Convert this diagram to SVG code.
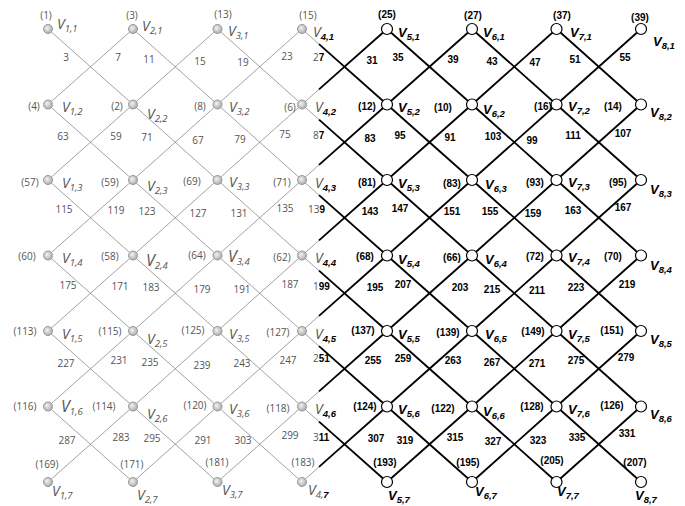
<svg xmlns="http://www.w3.org/2000/svg" width="685" height="506" viewBox="0 0 685 506">
<defs>
<radialGradient id="gg" cx="40%" cy="40%" r="65%"><stop offset="0" stop-color="#f2f2f2"/><stop offset="1" stop-color="#a8a8a8"/></radialGradient>
<style>
.eg{stroke:#8c8c8c;stroke-width:0.8;fill:none}
.eb{stroke:#000;stroke-width:1.8;fill:none}
.ng{fill:url(#gg);stroke:#999;stroke-width:1}
.nb{fill:#fff;stroke:#000;stroke-width:1.2}
.tg{font-family:"Open Sans","Liberation Sans",sans-serif;font-size:10px;fill:#555}
.tb{font-family:"Liberation Sans",Arial,sans-serif;font-size:10px;font-weight:bold;fill:#000}
.vg{font-family:"Open Sans","Liberation Sans",sans-serif;font-style:italic;font-size:14px;fill:#555}
.vb{font-family:"Liberation Sans",Arial,sans-serif;font-style:italic;font-weight:bold;font-size:13px;fill:#000}
.big{font-size:16px}
.s{font-size:9.5px}
.c{text-anchor:middle}
</style>
</defs>
<rect width="685" height="506" fill="#fff"/>
<g id="connectors">
<line class="eg" x1="48" y1="29" x2="133" y2="104.5"/><line class="eg" x1="133" y1="29" x2="48" y2="104.5"/>
<line class="eg" x1="133" y1="29" x2="217.5" y2="104.5"/><line class="eg" x1="217.5" y1="29" x2="133" y2="104.5"/>
<line class="eg" x1="217.5" y1="29" x2="302" y2="104.5"/><line class="eg" x1="302" y1="29" x2="217.5" y2="104.5"/>
<line class="eg" x1="302" y1="29" x2="319" y2="44.1"/><line class="eg" x1="319" y1="89.4" x2="302" y2="104.5"/>
<line class="eb" x1="319" y1="44.1" x2="387" y2="104.5"/><line class="eb" x1="387" y1="29" x2="319" y2="89.4"/>
<line class="eb" x1="387" y1="29" x2="472" y2="104.5"/><line class="eb" x1="472" y1="29" x2="387" y2="104.5"/>
<line class="eb" x1="472" y1="29" x2="556.5" y2="104.5"/><line class="eb" x1="556.5" y1="29" x2="472" y2="104.5"/>
<line class="eb" x1="556.5" y1="29" x2="641" y2="104.5"/><line class="eb" x1="641" y1="29" x2="556.5" y2="104.5"/>

<line class="eg" x1="48" y1="104.5" x2="133" y2="180"/><line class="eg" x1="133" y1="104.5" x2="48" y2="180"/>
<line class="eg" x1="133" y1="104.5" x2="217.5" y2="180"/><line class="eg" x1="217.5" y1="104.5" x2="133" y2="180"/>
<line class="eg" x1="217.5" y1="104.5" x2="302" y2="180"/><line class="eg" x1="302" y1="104.5" x2="217.5" y2="180"/>
<line class="eg" x1="302" y1="104.5" x2="319" y2="119.6"/><line class="eg" x1="319" y1="164.9" x2="302" y2="180"/>
<line class="eb" x1="319" y1="119.6" x2="387" y2="180"/><line class="eb" x1="387" y1="104.5" x2="319" y2="164.9"/>
<line class="eb" x1="387" y1="104.5" x2="472" y2="180"/><line class="eb" x1="472" y1="104.5" x2="387" y2="180"/>
<line class="eb" x1="472" y1="104.5" x2="556.5" y2="180"/><line class="eb" x1="556.5" y1="104.5" x2="472" y2="180"/>
<line class="eb" x1="556.5" y1="104.5" x2="641" y2="180"/><line class="eb" x1="641" y1="104.5" x2="556.5" y2="180"/>

<line class="eg" x1="48" y1="180" x2="133" y2="255.5"/><line class="eg" x1="133" y1="180" x2="48" y2="255.5"/>
<line class="eg" x1="133" y1="180" x2="217.5" y2="255.5"/><line class="eg" x1="217.5" y1="180" x2="133" y2="255.5"/>
<line class="eg" x1="217.5" y1="180" x2="302" y2="255.5"/><line class="eg" x1="302" y1="180" x2="217.5" y2="255.5"/>
<line class="eg" x1="302" y1="180" x2="319" y2="195.1"/><line class="eg" x1="319" y1="240.4" x2="302" y2="255.5"/>
<line class="eb" x1="319" y1="195.1" x2="387" y2="255.5"/><line class="eb" x1="387" y1="180" x2="319" y2="240.4"/>
<line class="eb" x1="387" y1="180" x2="472" y2="255.5"/><line class="eb" x1="472" y1="180" x2="387" y2="255.5"/>
<line class="eb" x1="472" y1="180" x2="556.5" y2="255.5"/><line class="eb" x1="556.5" y1="180" x2="472" y2="255.5"/>
<line class="eb" x1="556.5" y1="180" x2="641" y2="255.5"/><line class="eb" x1="641" y1="180" x2="556.5" y2="255.5"/>

<line class="eg" x1="48" y1="255.5" x2="133" y2="331"/><line class="eg" x1="133" y1="255.5" x2="48" y2="331"/>
<line class="eg" x1="133" y1="255.5" x2="217.5" y2="331"/><line class="eg" x1="217.5" y1="255.5" x2="133" y2="331"/>
<line class="eg" x1="217.5" y1="255.5" x2="302" y2="331"/><line class="eg" x1="302" y1="255.5" x2="217.5" y2="331"/>
<line class="eg" x1="302" y1="255.5" x2="319" y2="270.6"/><line class="eg" x1="319" y1="315.9" x2="302" y2="331"/>
<line class="eb" x1="319" y1="270.6" x2="387" y2="331"/><line class="eb" x1="387" y1="255.5" x2="319" y2="315.9"/>
<line class="eb" x1="387" y1="255.5" x2="472" y2="331"/><line class="eb" x1="472" y1="255.5" x2="387" y2="331"/>
<line class="eb" x1="472" y1="255.5" x2="556.5" y2="331"/><line class="eb" x1="556.5" y1="255.5" x2="472" y2="331"/>
<line class="eb" x1="556.5" y1="255.5" x2="641" y2="331"/><line class="eb" x1="641" y1="255.5" x2="556.5" y2="331"/>

<line class="eg" x1="48" y1="331" x2="133" y2="406.5"/><line class="eg" x1="133" y1="331" x2="48" y2="406.5"/>
<line class="eg" x1="133" y1="331" x2="217.5" y2="406.5"/><line class="eg" x1="217.5" y1="331" x2="133" y2="406.5"/>
<line class="eg" x1="217.5" y1="331" x2="302" y2="406.5"/><line class="eg" x1="302" y1="331" x2="217.5" y2="406.5"/>
<line class="eg" x1="302" y1="331" x2="319" y2="346.1"/><line class="eg" x1="319" y1="391.4" x2="302" y2="406.5"/>
<line class="eb" x1="319" y1="346.1" x2="387" y2="406.5"/><line class="eb" x1="387" y1="331" x2="319" y2="391.4"/>
<line class="eb" x1="387" y1="331" x2="472" y2="406.5"/><line class="eb" x1="472" y1="331" x2="387" y2="406.5"/>
<line class="eb" x1="472" y1="331" x2="556.5" y2="406.5"/><line class="eb" x1="556.5" y1="331" x2="472" y2="406.5"/>
<line class="eb" x1="556.5" y1="331" x2="641" y2="406.5"/><line class="eb" x1="641" y1="331" x2="556.5" y2="406.5"/>

<line class="eg" x1="48" y1="406.5" x2="133" y2="482"/><line class="eg" x1="133" y1="406.5" x2="48" y2="482"/>
<line class="eg" x1="133" y1="406.5" x2="217.5" y2="482"/><line class="eg" x1="217.5" y1="406.5" x2="133" y2="482"/>
<line class="eg" x1="217.5" y1="406.5" x2="302" y2="482"/><line class="eg" x1="302" y1="406.5" x2="217.5" y2="482"/>
<line class="eg" x1="302" y1="406.5" x2="319" y2="421.6"/><line class="eg" x1="319" y1="466.9" x2="302" y2="482"/>
<line class="eb" x1="319" y1="421.6" x2="387" y2="482"/><line class="eb" x1="387" y1="406.5" x2="319" y2="466.9"/>
<line class="eb" x1="387" y1="406.5" x2="472" y2="482"/><line class="eb" x1="472" y1="406.5" x2="387" y2="482"/>
<line class="eb" x1="472" y1="406.5" x2="556.5" y2="482"/><line class="eb" x1="556.5" y1="406.5" x2="472" y2="482"/>
<line class="eb" x1="556.5" y1="406.5" x2="641" y2="482"/><line class="eb" x1="641" y1="406.5" x2="556.5" y2="482"/>
</g>
<g id="edge-labels">
<text class="tg c" x="66" y="60.5">3</text><text class="tg c" x="118" y="60.5">7</text><text class="tg c" x="149" y="62.5">11</text><text class="tg c" x="200" y="64.5">15</text><text class="tg c" x="243" y="65.5">19</text><text class="tg c" x="287" y="59.5">23</text>
<text class="tg" x="313" y="60.5">2<tspan class="tb">7</tspan></text>
<text class="tb c" x="372" y="63.5">31</text><text class="tb c" x="398" y="60.5">35</text><text class="tb c" x="453" y="62.5">39</text><text class="tb c" x="492" y="64.5">43</text><text class="tb c" x="535" y="65.5">47</text><text class="tb c" x="575" y="62.5">51</text><text class="tb c" x="625" y="60.5">55</text>

<text class="tg c" x="63" y="139.5">63</text><text class="tg c" x="116" y="139.5">59</text><text class="tg c" x="147" y="140.5">71</text><text class="tg c" x="198" y="143.5">67</text><text class="tg c" x="240" y="142.5">79</text><text class="tg c" x="285" y="137.5">75</text>
<text class="tg" x="313" y="138.5">8<tspan class="tb">7</tspan></text>
<text class="tb c" x="370" y="141.5">83</text><text class="tb c" x="400" y="138.5">95</text><text class="tb c" x="450" y="140.5">91</text><text class="tb c" x="493" y="139.5">103</text><text class="tb c" x="532" y="143.5">99</text><text class="tb c" x="573" y="138.5">111</text><text class="tb c" x="623" y="136.5">107</text>

<text class="tg c" x="64" y="212.5">115</text><text class="tg c" x="116" y="213.5">119</text><text class="tg c" x="147" y="214.5">123</text><text class="tg c" x="198" y="216.5">127</text><text class="tg c" x="239" y="216.5">131</text><text class="tg c" x="285" y="211.5">135</text>
<text class="tg" x="308" y="212.5">13<tspan class="tb">9</tspan></text>
<text class="tb c" x="370" y="214.5">143</text><text class="tb c" x="400" y="211.5">147</text><text class="tb c" x="452" y="214.5">151</text><text class="tb c" x="490" y="214.5">155</text><text class="tb c" x="533" y="216.5">159</text><text class="tb c" x="573" y="213.5">163</text><text class="tb c" x="623" y="210.5">167</text>

<text class="tg c" x="68" y="288.5">175</text><text class="tg c" x="120" y="289.5">171</text><text class="tg c" x="151" y="290.5">183</text><text class="tg c" x="202" y="292.5">179</text><text class="tg c" x="242" y="292.5">191</text><text class="tg c" x="290" y="287.5">187</text>
<text class="tg" x="313" y="289.5">1<tspan class="tb">99</tspan></text>
<text class="tb c" x="375" y="290.5">195</text><text class="tb c" x="403" y="287.5">207</text><text class="tb c" x="460" y="290.5">203</text><text class="tb c" x="492" y="292.5">215</text><text class="tb c" x="537" y="293.5">211</text><text class="tb c" x="576" y="290.5">223</text><text class="tb c" x="627" y="287.5">219</text>

<text class="tg c" x="66" y="366.5">227</text><text class="tg c" x="119" y="363.5">231</text><text class="tg c" x="150" y="365.5">235</text><text class="tg c" x="202" y="368.5">239</text><text class="tg c" x="242" y="366.5">243</text><text class="tg c" x="288" y="363.5">247</text>
<text class="tg" x="313" y="361.5">2<tspan class="tb">51</tspan></text>
<text class="tb c" x="373" y="363.5">255</text><text class="tb c" x="403" y="361.5">259</text><text class="tb c" x="453" y="363.5">263</text><text class="tb c" x="492" y="365.5">267</text><text class="tb c" x="537" y="366.5">271</text><text class="tb c" x="576" y="363.5">275</text><text class="tb c" x="626" y="360.5">279</text>

<text class="tg c" x="67" y="443.5">287</text><text class="tg c" x="121" y="440.5">283</text><text class="tg c" x="152" y="441.5">295</text><text class="tg c" x="203" y="443.5">291</text><text class="tg c" x="243" y="443.5">303</text><text class="tg c" x="290" y="438.5">299</text>
<text class="tg" x="313" y="440.5">3<tspan class="tb">11</tspan></text>
<text class="tb c" x="376" y="441.5">307</text><text class="tb c" x="405" y="443.5">319</text><text class="tb c" x="455" y="440.5">315</text><text class="tb c" x="493" y="444.5">327</text><text class="tb c" x="538" y="443.5">323</text><text class="tb c" x="577" y="440.5">335</text><text class="tb c" x="627" y="436.5">331</text>
</g>

<g id="v1-1"><circle class="ng" cx="48" cy="29" r="4.5"/><text class="tg c" x="46" y="18.5">(1)</text><text class="vg" x="57" y="28.5">V<tspan class="s" dy="3">1,1</tspan></text></g>
<g id="v2-1"><circle class="ng" cx="133" cy="29" r="4.5"/><text class="tg c" x="132" y="18.5">(3)</text><text class="vg" x="142" y="30.5">V<tspan class="s" dy="3">2,1</tspan></text></g>
<g id="v3-1"><circle class="ng" cx="217.5" cy="29" r="4.5"/><text class="tg c" x="223" y="17.5">(13)</text><text class="vg" x="228" y="35.5">V<tspan class="s" dy="3">3,1</tspan></text></g>
<g id="v4-1"><circle class="ng" cx="302" cy="29" r="4.5"/><text class="tg c" x="308" y="18.5">(15)</text><text x="313" y="36.5"><tspan class="vg">V</tspan><tspan class="vb s" dy="3">4,1</tspan></text></g>
<g id="v5-1"><circle class="nb" cx="387" cy="29" r="5.5"/><text class="tb c" x="387" y="17.5">(25)</text><text class="vb" x="398" y="36.5">V<tspan class="s" dy="3">5,1</tspan></text></g>
<g id="v6-1"><circle class="nb" cx="472" cy="29" r="5.5"/><text class="tb c" x="473" y="18.5">(27)</text><text class="vb" x="483" y="36.5">V<tspan class="s" dy="3">6,1</tspan></text></g>
<g id="v7-1"><circle class="nb" cx="556.5" cy="29" r="5.5"/><text class="tb c" x="562" y="18.5">(37)</text><text class="vb" x="570" y="36.5">V<tspan class="s" dy="3">7,1</tspan></text></g>
<g id="v8-1"><circle class="nb" cx="641" cy="29" r="5.5"/><text class="tb c" x="640" y="20.5">(39)</text><text class="vb" x="653" y="45.5">V<tspan class="s" dy="3">8,1</tspan></text></g>

<g id="v1-2"><circle class="ng" cx="48" cy="104.5" r="4.5"/><text class="tg c" x="34" y="109.5">(4)</text><text class="vg" x="62" y="111.5">V<tspan class="s" dy="3">1,2</tspan></text></g>
<g id="v2-2"><circle class="ng" cx="133" cy="104.5" r="4.5"/><text class="tg c" x="117" y="109.5">(2)</text><text class="vg" x="147" y="118.5">V<tspan class="s" dy="3">2,2</tspan></text></g>
<g id="v3-2"><circle class="ng" cx="217.5" cy="104.5" r="4.5"/><text class="tg c" x="200" y="109.5">(8)</text><text class="vg" x="229" y="111.5">V<tspan class="s" dy="3">3,2</tspan></text></g>
<g id="v4-2"><circle class="ng" cx="302" cy="104.5" r="4.5"/><text class="tg c" x="290" y="110.5">(6)</text><text x="315" y="111.5"><tspan class="vg">V</tspan><tspan class="vb s" dy="3">4,2</tspan></text></g>
<g id="v5-2"><circle class="nb" cx="387" cy="104.5" r="5.5"/><text class="tb c" x="367" y="109.5">(12)</text><text class="vb" x="398" y="111.5">V<tspan class="s" dy="3">5,2</tspan></text></g>
<g id="v6-2"><circle class="nb" cx="472" cy="104.5" r="5.5"/><text class="tb c" x="443" y="110.5">(10)</text><text class="vb" x="483" y="113.5">V<tspan class="s" dy="3">6,2</tspan></text></g>
<g id="v7-2"><circle class="nb" cx="556.5" cy="104.5" r="5.5"/><text class="tb c" x="543" y="109.5">(16)</text><text class="vb" x="568" y="110.5">V<tspan class="s" dy="3">7,2</tspan></text></g>
<g id="v8-2"><circle class="nb" cx="641" cy="104.5" r="5.5"/><text class="tb c" x="613" y="109.5">(14)</text><text class="vb" x="650" y="116.5">V<tspan class="s" dy="3">8,2</tspan></text></g>

<g id="v1-3"><circle class="ng" cx="48" cy="180" r="4.5"/><text class="tg c" x="30" y="185.5">(57)</text><text class="vg" x="62" y="187.5">V<tspan class="s" dy="3">1,3</tspan></text></g>
<g id="v2-3"><circle class="ng" cx="133" cy="180" r="4.5"/><text class="tg c" x="110" y="185.5">(59)</text><text class="vg" x="147" y="190.5">V<tspan class="s" dy="3">2,3</tspan></text></g>
<g id="v3-3"><circle class="ng" cx="217.5" cy="180" r="4.5"/><text class="tg c" x="192" y="184.5">(69)</text><text class="vg" x="229" y="186.5">V<tspan class="s" dy="3">3,3</tspan></text></g>
<g id="v4-3"><circle class="ng" cx="302" cy="180" r="4.5"/><text class="tg c" x="282" y="185.5">(71)</text><text x="315" y="187.5"><tspan class="vg">V</tspan><tspan class="vb s" dy="3">4,3</tspan></text></g>
<g id="v5-3"><circle class="nb" cx="387" cy="180" r="5.5"/><text class="tb c" x="367" y="185.5">(81)</text><text class="vb" x="398" y="187.5">V<tspan class="s" dy="3">5,3</tspan></text></g>
<g id="v6-3"><circle class="nb" cx="472" cy="180" r="5.5"/><text class="tb c" x="452" y="186.5">(83)</text><text class="vb" x="485" y="188.5">V<tspan class="s" dy="3">6,3</tspan></text></g>
<g id="v7-3"><circle class="nb" cx="556.5" cy="180" r="5.5"/><text class="tb c" x="535" y="185.5">(93)</text><text class="vb" x="568" y="186.5">V<tspan class="s" dy="3">7,3</tspan></text></g>
<g id="v8-3"><circle class="nb" cx="641" cy="180" r="5.5"/><text class="tb c" x="618" y="185.5">(95)</text><text class="vb" x="650" y="193.5">V<tspan class="s" dy="3">8,3</tspan></text></g>

<g id="v1-4"><circle class="ng" cx="48" cy="255.5" r="4.5"/><text class="tg c" x="27" y="259.5">(60)</text><text class="vg" x="62" y="262.5">V<tspan class="s" dy="3">1,4</tspan></text></g>
<g id="v2-4"><circle class="ng" cx="133" cy="255.5" r="4.5"/><text class="tg c" x="110" y="259.5">(58)</text><text class="vg big" x="146" y="265.5">V<tspan class="s" dy="3">2,4</tspan></text></g>
<g id="v3-4"><circle class="ng" cx="217.5" cy="255.5" r="4.5"/><text class="tg c" x="197" y="258.5">(64)</text><text class="vg big" x="228" y="262">V<tspan class="s" dy="3">3,4</tspan></text></g>
<g id="v4-4"><circle class="ng" cx="302" cy="255.5" r="4.5"/><text class="tg c" x="282" y="260.5">(62)</text><text x="315" y="262.5"><tspan class="vg">V</tspan><tspan class="vb s" dy="3">4,4</tspan></text></g>
<g id="v5-4"><circle class="nb" cx="387" cy="255.5" r="5.5"/><text class="tb c" x="365" y="259.5">(68)</text><text class="vb" x="398" y="263.5">V<tspan class="s" dy="3">5,4</tspan></text></g>
<g id="v6-4"><circle class="nb" cx="472" cy="255.5" r="5.5"/><text class="tb c" x="452" y="260.5">(66)</text><text class="vb" x="485" y="263.5">V<tspan class="s" dy="3">6,4</tspan></text></g>
<g id="v7-4"><circle class="nb" cx="556.5" cy="255.5" r="5.5"/><text class="tb c" x="535" y="259.5">(72)</text><text class="vb" x="568" y="261.5">V<tspan class="s" dy="3">7,4</tspan></text></g>
<g id="v8-4"><circle class="nb" cx="641" cy="255.5" r="5.5"/><text class="tb c" x="613" y="259.5">(70)</text><text class="vb" x="650" y="269.5">V<tspan class="s" dy="3">8,4</tspan></text></g>

<g id="v1-5"><circle class="ng" cx="48" cy="331" r="4.5"/><text class="tg c" x="25" y="334.5">(113)</text><text class="vg" x="62" y="338.5">V<tspan class="s" dy="3">1,5</tspan></text></g>
<g id="v2-5"><circle class="ng" cx="133" cy="331" r="4.5"/><text class="tg c" x="110" y="334.5">(115)</text><text class="vg" x="147" y="343.5">V<tspan class="s" dy="3">2,5</tspan></text></g>
<g id="v3-5"><circle class="ng" cx="217.5" cy="331" r="4.5"/><text class="tg c" x="193" y="333.5">(125)</text><text class="vg" x="229" y="338.5">V<tspan class="s" dy="3">3,5</tspan></text></g>
<g id="v4-5"><circle class="ng" cx="302" cy="331" r="4.5"/><text class="tg c" x="278" y="335.5">(127)</text><text x="315" y="338.5"><tspan class="vg">V</tspan><tspan class="vb s" dy="3">4,5</tspan></text></g>
<g id="v5-5"><circle class="nb" cx="387" cy="331" r="5.5"/><text class="tb c" x="363" y="333.5">(137)</text><text class="vb" x="398" y="338.5">V<tspan class="s" dy="3">5,5</tspan></text></g>
<g id="v6-5"><circle class="nb" cx="472" cy="331" r="5.5"/><text class="tb c" x="448" y="335.5">(139)</text><text class="vb" x="485" y="338.5">V<tspan class="s" dy="3">6,5</tspan></text></g>
<g id="v7-5"><circle class="nb" cx="556.5" cy="331" r="5.5"/><text class="tb c" x="533" y="334.5">(149)</text><text class="vb" x="568" y="338.5">V<tspan class="s" dy="3">7,5</tspan></text></g>
<g id="v8-5"><circle class="nb" cx="641" cy="331" r="5.5"/><text class="tb c" x="612" y="333.5">(151)</text><text class="vb" x="650" y="343.5">V<tspan class="s" dy="3">8,5</tspan></text></g>

<g id="v1-6"><circle class="ng" cx="48" cy="406.5" r="4.5"/><text class="tg c" x="25" y="409.5">(116)</text><text class="vg big" x="61" y="411.5">V<tspan class="s" dy="3">1,6</tspan></text></g>
<g id="v2-6"><circle class="ng" cx="133" cy="406.5" r="4.5"/><text class="tg c" x="104" y="409.5">(114)</text><text class="vg" x="147" y="418.5">V<tspan class="s" dy="3">2,6</tspan></text></g>
<g id="v3-6"><circle class="ng" cx="217.5" cy="406.5" r="4.5"/><text class="tg c" x="195" y="408.5">(120)</text><text class="vg" x="229" y="413.5">V<tspan class="s" dy="3">3,6</tspan></text></g>
<g id="v4-6"><circle class="ng" cx="302" cy="406.5" r="4.5"/><text class="tg c" x="278" y="411.5">(118)</text><text x="315" y="413.5"><tspan class="vg">V</tspan><tspan class="vb s" dy="3">4,6</tspan></text></g>
<g id="v5-6"><circle class="nb" cx="387" cy="406.5" r="5.5"/><text class="tb c" x="365" y="409.5">(124)</text><text class="vb" x="398" y="413.5">V<tspan class="s" dy="3">5,6</tspan></text></g>
<g id="v6-6"><circle class="nb" cx="472" cy="406.5" r="5.5"/><text class="tb c" x="443" y="411.5">(122)</text><text class="vb" x="483" y="415.5">V<tspan class="s" dy="3">6,6</tspan></text></g>
<g id="v7-6"><circle class="nb" cx="556.5" cy="406.5" r="5.5"/><text class="tb c" x="532" y="409.5">(128)</text><text class="vb" x="568" y="413.5">V<tspan class="s" dy="3">7,6</tspan></text></g>
<g id="v8-6"><circle class="nb" cx="641" cy="406.5" r="5.5"/><text class="tb c" x="612" y="408.5">(126)</text><text class="vb" x="650" y="418.5">V<tspan class="s" dy="3">8,6</tspan></text></g>

<g id="v1-7"><circle class="ng" cx="48" cy="482" r="4.5"/><text class="tg c" x="47" y="467.5">(169)</text><text class="vg" x="52" y="495.5">V<tspan class="s" dy="3">1,7</tspan></text></g>
<g id="v2-7"><circle class="ng" cx="133" cy="482" r="4.5"/><text class="tg c" x="132" y="467.5">(171)</text><text class="vg" x="137" y="500">V<tspan class="s" dy="2.5">2,7</tspan></text></g>
<g id="v3-7"><circle class="ng" cx="217.5" cy="482" r="4.5"/><text class="tg c" x="217" y="465.5">(181)</text><text class="vg" x="222" y="495">V<tspan class="s" dy="3">3,7</tspan></text></g>
<g id="v4-7"><circle class="ng" cx="302" cy="482" r="4.5"/><text class="tg c" x="303" y="465.5">(183)</text><text x="308" y="495"><tspan class="vg">V</tspan><tspan class="vg s" dy="3">4,</tspan><tspan class="vb s">7</tspan></text></g>
<g id="v5-7"><circle class="nb" cx="387" cy="482" r="5.5"/><text class="tb c" x="385" y="465.5">(193)</text><text class="vb" x="388" y="500">V<tspan class="s" dy="2.5">5,7</tspan></text></g>
<g id="v6-7"><circle class="nb" cx="472" cy="482" r="5.5"/><text class="tb c" x="468" y="465.5">(195)</text><text class="vb" x="475" y="496">V<tspan class="s" dy="3">6,7</tspan></text></g>
<g id="v7-7"><circle class="nb" cx="556.5" cy="482" r="5.5"/><text class="tb c" x="552" y="463.5">(205)</text><text class="vb" x="557" y="496">V<tspan class="s" dy="3">7,7</tspan></text></g>
<g id="v8-7"><circle class="nb" cx="641" cy="482" r="5.5"/><text class="tb c" x="635" y="465.5">(207)</text><text class="vb" x="635" y="500">V<tspan class="s" dy="2.5">8,7</tspan></text></g>
</svg>
